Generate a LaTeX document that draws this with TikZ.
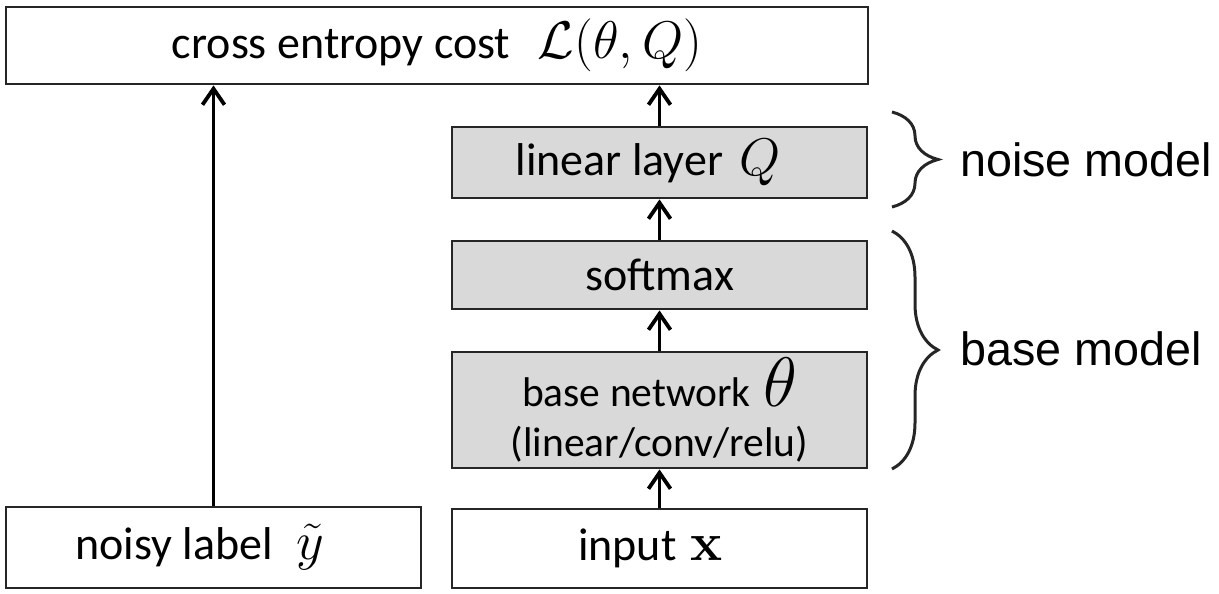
\RequirePackage{fix-cm}
\documentclass[tikz,border=0pt]{standalone}
\usepackage[no-math]{fontspec}
\setmainfont{Carlito}
\newfontfamily\bracefont{Liberation Sans}
\usepackage{tikz}
\usetikzlibrary{arrows.meta,decorations.pathreplacing}
\definecolor{boxc}{RGB}{38,38,38}
\definecolor{greyc}{RGB}{217,217,217}
\newcommand{\sizedmath}[2]{{\fontsize{#1}{#1}\selectfont$#2$}}

\begin{document}
\begin{tikzpicture}[x=1pt, y=-1pt, every node/.style={font=\fontsize{46}{52}\selectfont},
  box/.style={draw=boxc, line width=2.8pt, fill=white, minimum width=415pt, align=center, inner sep=0pt},
  gbox/.style={box, fill=greyc},
  arr/.style={draw=black, line width=2.4pt, -{Straight Barb[length=16pt, width=22pt, line width=1.4pt 1]}},
  brc/.style={draw=boxc, line width=3pt, decorate, decoration={brace, amplitude=46pt}},
  lbl/.style={anchor=west, inner sep=0pt, font=\bracefont\fontsize{46.7}{52}\selectfont}]
  \useasboundingbox (0,0) rectangle (1219,594);
  \node[box, minimum width=862pt, minimum height=77pt] (cost) at (437,45.5) {cross entropy cost\hspace{0.6em}\sizedmath{53}{\mathcal{L}(\theta, Q)}};
  \node[gbox, minimum height=71pt] (lin) at (659.5,162.5) {linear layer\hspace{0.35em}\sizedmath{53}{Q}\hspace*{0.5em}};
  \node[gbox, minimum height=68pt] (soft) at (659.5,275) {softmax};
  \node[gbox, minimum height=116pt, font=\fontsize{41.5}{50}\selectfont] (base) at (659.5,410) {base network\hspace{0.3em}\sizedmath{70}{\theta}\\(linear/conv/relu)};
  \node[box, minimum height=79pt] (inp) at (659.5,548.5) {input\hspace{0.3em}\sizedmath{54}{\mathbf{x}}\hspace*{0.4em}};
  \node[box, minimum height=81pt] (noisy) at (213.5,547.5) {noisy label\hspace{0.5em}\sizedmath{54}{\tilde{y}}\hspace*{0.6em}};
  \draw[arr] (noisy.north) -- (noisy.north |- cost.south);
  \draw[arr] (inp) -- (base);
  \draw[arr] (base) -- (soft);
  \draw[arr] (soft) -- (lin);
  \draw[arr] (lin.north) -- (lin.north |- cost.south);
  \draw[brc] (892,112) -- (892,207);
  \draw[brc] (892,231) -- (892,469);
  \node[lbl] (noiselbl) at (960,160) {noise model};
  \node[lbl] (baselbl) at (960,349) {base model};
\end{tikzpicture}
\end{document}
